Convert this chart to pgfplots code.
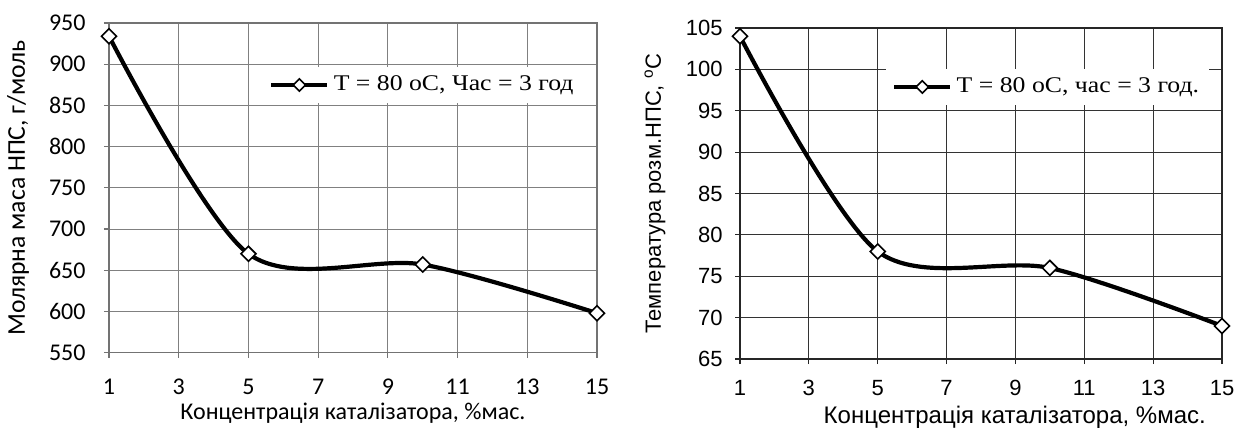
\documentclass[border=0pt]{standalone}
\usepackage{pgfplots}
\pgfplotsset{compat=1.18}
\usepackage{fontspec}
\setmainfont{Liberation Serif}[FakeStretch=1.15]
\newfontfamily\carlito{Carlito}
\newfontfamily\arialf{Liberation Sans}

\pgfplotstableread{
x y
1 934
5 670
10 657
15 598
}\tableleft
\pgfplotstableread{
x y
1 104
5 78
10 76
15 69
}\tableright

\begin{document}
\begin{tikzpicture}
\path[use as bounding box] (0pt,0pt) rectangle (619.5pt,215pt);
\pgfplotsset{
  common/.style={
    scale only axis, anchor=south west, clip=false,
    xmin=1, xmax=15, xtick={1,3,...,15},
    grid=major, tick align=outside, xtick pos=left, ytick pos=left,
    major tick length=2.5pt,
    /pgf/number format/assume math mode=true,
    legend cell align=left,
    legend style={draw=none, fill=white, inner xsep=3pt, inner ysep=2.5pt,
      font=\fontsize{11.2}{13}\selectfont,
      /tikz/every even column/.append style={column sep=1pt}},
    legend image code/.code={\draw[line width=2.4pt, mark repeat=2,mark phase=2, mark size=2.2pt] plot coordinates {(0pt,0pt)(14pt,0pt)(28pt,0pt)};},
  },
  dataline/.style={black, line width=2.1pt, smooth, mark=square*,
    mark options={fill=white, line width=0.8pt, rotate=45, solid}, mark size=2.65pt},
}
% left panel
\begin{axis}[common, at={(54.5pt,38.65pt)}, width=244pt, height=164.85pt,
  ymin=550, ymax=950, ytick={550,600,...,950},
  grid style={black!50, line width=0.5pt},
  axis line style={black!55, line width=0.6pt},
  tick style={black!55, line width=0.6pt},
  tick label style={font=\carlito\fontsize{12}{13}\selectfont, black},
  xticklabel style={anchor=base, yshift=-18.3pt},
  yticklabel style={xshift=-5.7pt},
  xlabel={Концентрація каталізатора, \%мас.},
  ylabel={Молярна маса НПС, г/моль},
  every axis x label/.style={at={(axis description cs:0.5,0)}, anchor=center, yshift=-30.5pt, font=\carlito\fontsize{12}{13}\selectfont},
  every axis y label/.style={at={(axis description cs:0,0.5)}, xshift=-45.5pt, rotate=90, anchor=center, font=\carlito\fontsize{12.8}{13}\selectfont},
  legend style={at={(0.644,0.812)}, anchor=center},
]
\addplot[dataline] table[x=x,y=y] {\tableleft};
\addlegendentry{T = 80 oC, Час = 3 год}
\end{axis}
% right panel
\begin{axis}[common, at={(370pt,35.5pt)}, width=241pt, height=165.5pt,
  ymin=65, ymax=105, ytick={65,70,...,105},
  grid style={black!80, line width=0.5pt},
  axis line style={black!85, line width=0.6pt},
  tick style={black!85, line width=0.6pt},
  tick label style={font=\arialf\fontsize{11}{13}\selectfont, black},
  xticklabel style={anchor=base, yshift=-15.8pt},
  yticklabel style={xshift=-2.7pt},
  xlabel={Концентрація каталізатора, \%мас.},
  ylabel={Температура розм.НПС, \textsuperscript{o}С},
  every axis x label/.style={at={(axis description cs:0.57,0)}, anchor=center, yshift=-29pt, font=\arialf\fontsize{12}{13}\selectfont},
  every axis y label/.style={at={(axis description cs:0,0.5)}, xshift=-42.5pt, rotate=90, anchor=center, font=\arialf\fontsize{11}{13}\selectfont},
  legend style={at={(0.638,0.822)}, anchor=center},
]
\addplot[dataline] table[x=x,y=y] {\tableright};
\addlegendentry{T = 80 oC, час = 3 год.}
\end{axis}
\end{tikzpicture}
\end{document}
